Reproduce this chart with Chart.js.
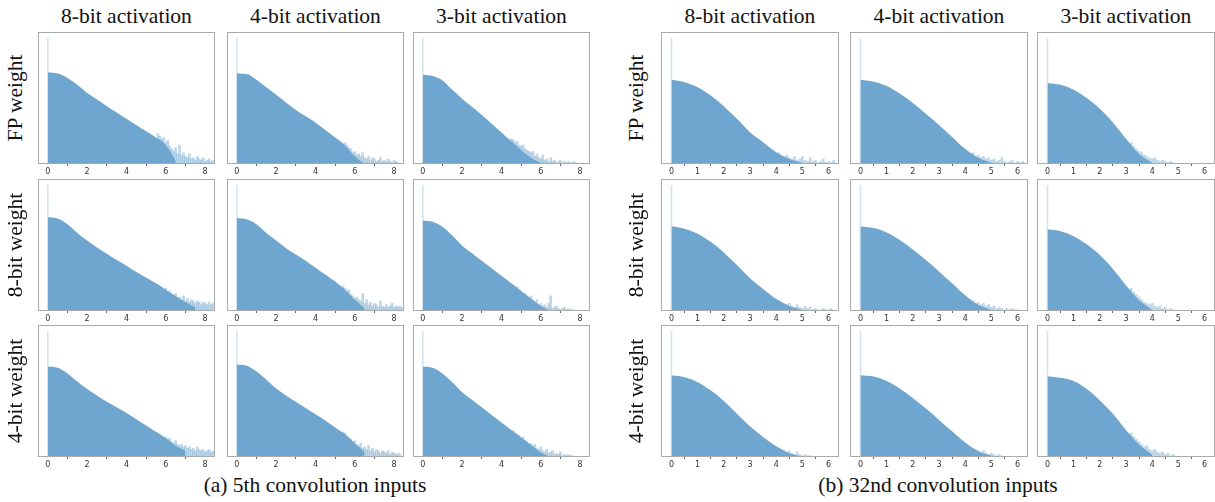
<!DOCTYPE html>
<html>
<head>
<meta charset="utf-8">
<script src="https://cdn.jsdelivr.net/npm/chart.js@4.4.0/dist/chart.umd.min.js"></script>
<style>
body{margin:0;background:#fff;width:1215px;height:502px;position:relative;overflow:hidden;font-family:"Liberation Serif","Times New Roman",serif;color:#111;}
.panel{position:absolute;}
.txt{position:absolute;font-size:21.5px;line-height:24px;height:24px;text-align:center;white-space:nowrap;}
.rot{transform:rotate(-90deg);}
</style>
</head>
<body>
<script>
// labels
const activations = ['8-bit activation', '4-bit activation', '3-bit activation'];
const weights = ['FP weight', '8-bit weight', '4-bit weight'];
const captions = ['(a) 5th convolution inputs', '(b) 32nd convolution inputs'];

// tick labels
const ticksA = [0, 2, 4, 6, 8];
const ticksB = [0, 1, 2, 3, 4, 5, 6];

// x of the body samples (same for every panel)
const bodyX = [0, 0.5, 1, 1.5, 2, 2.5, 3, 3.5, 4, 4.5, 5, 5.5, 6, 6.5, 7, 7.5, 8];

// (a) 5th conv: body heights, rows = FP / 8-bit / 4-bit weight, cols = 8 / 4 / 3-bit act
const bodyA_fp = [
  [0.73, 0.72, 0.685, 0.63, 0.565, 0.513, 0.46, 0.41, 0.36, 0.31, 0.26, 0.21, 0.15, 0.03],
  [0.72, 0.715, 0.67, 0.61, 0.55, 0.49, 0.43, 0.38, 0.33, 0.27, 0.21, 0.15, 0.06, 0.0],
  [0.71, 0.70, 0.665, 0.59, 0.52, 0.455, 0.39, 0.32, 0.25, 0.18, 0.11, 0.05, 0.01, 0.0]
];
const bodyA_w8 = [
  [0.745, 0.735, 0.69, 0.62, 0.56, 0.505, 0.455, 0.405, 0.36, 0.31, 0.265, 0.22, 0.17, 0.12, 0.07, 0.03],
  [0.74, 0.73, 0.69, 0.62, 0.56, 0.5, 0.45, 0.4, 0.345, 0.29, 0.235, 0.17, 0.09, 0.02],
  [0.72, 0.71, 0.67, 0.6, 0.52, 0.46, 0.4, 0.34, 0.28, 0.22, 0.16, 0.1, 0.04, 0.0]
];
const bodyA_w4 = [
  [0.72, 0.71, 0.665, 0.6, 0.54, 0.49, 0.44, 0.395, 0.35, 0.3, 0.25, 0.2, 0.15, 0.09, 0.05],
  [0.735, 0.725, 0.68, 0.615, 0.545, 0.49, 0.44, 0.39, 0.34, 0.29, 0.235, 0.18, 0.11, 0.04],
  [0.72, 0.71, 0.665, 0.595, 0.515, 0.455, 0.395, 0.335, 0.275, 0.215, 0.155, 0.095, 0.035, 0.0]
];
// (a) tail bins (width 0.1) and where they start
const tailStartA = [[5.6, 5.5, 4.5], [6.0, 5.4, 4.6], [6.0, 5.4, 4.6]];
const tailA_fp = [
  [0.24,0.22,0.2,0.21,0.17,0.19,0.14,0.12,0.1,0.13,0.08,0.15,0.07,0.09,0.06,0.05,0.08,0.04,0.05,0.03,0.06,0.04,0.03,0.05,0.02,0.03,0.04,0.02,0.03],
  [0.17,0.15,0.13,0.12,0.09,0.1,0.07,0.08,0.06,0.09,0.05,0.04,0.06,0.03,0.05,0.04,0.02,0.03,0.05,0.02,0.03,0.02,0.04,0.02,0.01,0.03,0.02,0.01],
  [0.2,0.19,0.17,0.18,0.15,0.14,0.15,0.12,0.11,0.1,0.09,0.1,0.06,0.08,0.05,0.04,0.07,0.03,0.04,0.02,0.05,0.02,0.03,0.01,0.02,0.03,0.01,0.02,0.01,0.02,0.01,0.01,0.02,0.01]
];
const tailA_w8 = [
  [0.18,0.15,0.16,0.13,0.12,0.14,0.1,0.11,0.09,0.12,0.08,0.1,0.07,0.09,0.08,0.06,0.08,0.07,0.05,0.07,0.06,0.05,0.07,0.05,0.06],
  [0.2,0.18,0.16,0.17,0.13,0.12,0.1,0.11,0.09,0.08,0.14,0.06,0.09,0.05,0.07,0.04,0.06,0.05,0.03,0.08,0.04,0.03,0.05,0.03,0.04,0.06,0.03,0.04,0.03,0.04,0.03],
  [0.2,0.18,0.19,0.16,0.15,0.13,0.14,0.11,0.1,0.12,0.08,0.07,0.09,0.05,0.06,0.04,0.05,0.03,0.06,0.12,0.02,0.03,0.04,0.02,0.01,0.02,0.03,0.01,0.02,0.01,0.01]
];
const tailA_w4 = [
  [0.16,0.14,0.15,0.12,0.11,0.13,0.1,0.09,0.1,0.08,0.09,0.07,0.08,0.06,0.07,0.05,0.08,0.06,0.05,0.06,0.04,0.05,0.06,0.04,0.05],
  [0.2,0.19,0.16,0.15,0.14,0.12,0.13,0.1,0.09,0.11,0.07,0.08,0.06,0.09,0.05,0.07,0.04,0.06,0.05,0.03,0.05,0.04,0.03,0.05,0.02,0.04,0.03,0.02,0.03,0.02],
  [0.21,0.19,0.18,0.17,0.15,0.16,0.13,0.12,0.1,0.11,0.09,0.1,0.07,0.06,0.08,0.05,0.04,0.06,0.03,0.04,0.05,0.02,0.03,0.02,0.04,0.01,0.02,0.01,0.02,0.01,0.01]
];

// (b) 32nd conv
const bodyB_fp = [
  [0.67, 0.651, 0.611, 0.545, 0.46, 0.359, 0.253, 0.173, 0.093, 0.04, 0.01],
  [0.67, 0.655, 0.62, 0.56, 0.485, 0.4, 0.31, 0.215, 0.12, 0.05, 0.01],
  [0.645, 0.63, 0.59, 0.525, 0.44, 0.33, 0.2, 0.08, 0.01]
];
const bodyB_w8 = [
  [0.675, 0.655, 0.615, 0.55, 0.465, 0.365, 0.26, 0.175, 0.095, 0.04, 0.01],
  [0.675, 0.66, 0.625, 0.565, 0.49, 0.405, 0.315, 0.22, 0.125, 0.05, 0.01],
  [0.65, 0.635, 0.595, 0.53, 0.445, 0.335, 0.205, 0.085, 0.01]
];
const bodyB_w4 = [
  [0.65, 0.635, 0.595, 0.53, 0.445, 0.345, 0.245, 0.16, 0.085, 0.03, 0.005],
  [0.65, 0.64, 0.605, 0.545, 0.47, 0.385, 0.295, 0.205, 0.115, 0.045, 0.01],
  [0.642, 0.63, 0.605, 0.54, 0.45, 0.345, 0.215, 0.1, 0.02]
];
const tailStartB = [[3.6, 3.7, 3.2], [3.6, 3.7, 3.2], [3.6, 3.7, 3.2]];
const tailB_fp = [
  [0.15,0.13,0.12,0.11,0.08,0.09,0.07,0.06,0.07,0.05,0.04,0.06,0.03,0.04,0.06,0.03,0.02,0.05,0.02,0.03,0.01,0.02,0.04,0.01,0.02,0.01,0.03],
  [0.16,0.14,0.13,0.12,0.1,0.08,0.09,0.06,0.07,0.05,0.06,0.04,0.05,0.03,0.04,0.02,0.03,0.05,0.02,0.01,0.02,0.03,0.01,0.02,0.01,0.02],
  [0.17,0.14,0.12,0.1,0.09,0.07,0.06,0.05,0.04,0.05,0.03,0.02,0.03,0.02,0.01,0.02,0.01]
];
const tailB_w8 = [
  [0.15,0.14,0.12,0.1,0.09,0.08,0.07,0.06,0.05,0.06,0.04,0.03,0.05,0.03,0.02,0.04,0.02,0.03,0.01,0.02,0.01,0.01,0.02,0.01,0.01,0.02],
  [0.17,0.15,0.13,0.12,0.1,0.09,0.08,0.06,0.07,0.05,0.06,0.04,0.05,0.03,0.04,0.02,0.03,0.02,0.01,0.02,0.01,0.02,0.01,0.01],
  [0.18,0.15,0.13,0.11,0.09,0.07,0.06,0.05,0.06,0.04,0.03,0.04,0.02,0.03,0.01,0.02,0.01]
];
const tailB_w4 = [
  [0.14,0.12,0.11,0.09,0.08,0.07,0.06,0.05,0.04,0.05,0.03,0.02,0.04,0.02,0.01,0.02,0.01,0.01],
  [0.16,0.14,0.12,0.11,0.09,0.08,0.07,0.06,0.05,0.04,0.05,0.03,0.02,0.03,0.02,0.01,0.02,0.01],
  [0.19,0.16,0.14,0.12,0.1,0.08,0.09,0.06,0.05,0.06,0.04,0.03,0.04,0.02,0.03,0.01,0.02,0.01]
];

// the thin spike at zero
const spikeA = [[1.0, 1.0, 1.0], [1.0, 1.0, 1.0], [1.0, 1.0, 1.0]];
const spikeB = [[1.0, 1.0, 1.0], [1.0, 1.0, 1.0], [1.0, 1.0, 1.0]];

const BLUE = 'rgb(111,166,207)';
const rowTop = [32, 179, 325];
const panelH = 132;

const boxPlugin = {
  id: 'box',
  afterDraw(chart) {
    const a = chart.chartArea, c = chart.ctx;
    c.save();
    c.strokeStyle = '#aaa';
    c.lineWidth = 1;
    c.strokeRect(a.left + 0.5, a.top + 0.5, a.right - a.left - 1, a.bottom - a.top - 1);
    c.restore();
  }
};

function addText(txt, cx, cy, w, rotated) {
  var d = document.createElement('div');
  d.className = 'txt' + (rotated ? ' rot' : '');
  d.textContent = txt;
  d.style.width = w + 'px';
  d.style.left = (cx - w / 2) + 'px';
  d.style.top = (cy - 12) + 'px';
  document.body.appendChild(d);
}

function panel(left, top, w, xmin, xmax, ticks, body, tStart, tail, spike) {
  var div = document.createElement('div');
  div.className = 'panel';
  div.style.left = left + 'px';
  div.style.top = top + 'px';
  var cv = document.createElement('canvas');
  cv.width = w;
  cv.height = panelH + 16;
  div.appendChild(cv);
  document.body.appendChild(div);

  new Chart(cv, {
    type: 'bar',
    data: {
      datasets: [{
        type: 'line',
        data: body.map((v, i) => ({x: bodyX[i], y: v})),
        fill: 'origin',
        backgroundColor: BLUE,
        borderWidth: 0,
        pointRadius: 0,
        cubicInterpolationMode: 'monotone',
        order: 3
      }, {
        data: tail.map((v, i) => ({x: +(tStart + i * 0.1).toFixed(2), y: v})),
        backgroundColor: 'rgba(111,166,207,0.45)',
        barThickness: 2,
        grouped: false,
        order: 2
      }, {
        data: [{x: 0, y: spike}],
        backgroundColor: 'rgba(111,166,207,0.3)',
        barThickness: 1,
        grouped: false,
        order: 1
      }]
    },
    options: {
      responsive: false,
      animation: false,
      events: [],
      layout: {padding: 0},
      plugins: {legend: {display: false}, tooltip: {enabled: false}},
      scales: {
        x: {
          type: 'linear', min: xmin, max: xmax, offset: false,
          afterBuildTicks: s => { s.ticks = ticks.map(v => ({value: v})); },
          afterFit: s => { s.height = 16; },
          grid: {display: true, drawOnChartArea: false, drawTicks: true, tickLength: 2, color: '#666'},
          border: {display: false},
          ticks: {font: {family: 'DejaVu Sans', size: 8}, color: '#333', padding: 1, maxRotation: 0, autoSkip: false}
        },
        y: {display: false, min: 0, max: 1.05}
      }
    },
    plugins: [boxPlugin]
  });
}

const groups = [
  {lefts: [38, 227, 413], w: 177, xmin: -0.5, xmax: 8.5, ticks: ticksA,
   body: [bodyA_fp, bodyA_w8, bodyA_w4], tail: [tailA_fp, tailA_w8, tailA_w4],
   tStart: tailStartA, spike: spikeA, rowLabX: 15, capX: 315},
  {lefts: [661, 850, 1037], w: 178, xmin: -0.4, xmax: 6.4, ticks: ticksB,
   body: [bodyB_fp, bodyB_w8, bodyB_w4], tail: [tailB_fp, tailB_w8, tailB_w4],
   tStart: tailStartB, spike: spikeB, rowLabX: 636, capX: 938}
];

groups.forEach((g, gi) => {
  for (let c = 0; c < 3; c++) {
    addText(activations[c], g.lefts[c] + g.w / 2, 16, 200, false);
    for (let r = 0; r < 3; r++) {
      panel(g.lefts[c], rowTop[r], g.w, g.xmin, g.xmax, g.ticks,
            g.body[r][c], g.tStart[r][c], g.tail[r][c], g.spike[r][c]);
    }
  }
  for (let r = 0; r < 3; r++) {
    addText(weights[r], g.rowLabX, rowTop[r] + panelH / 2, 140, true);
  }
  addText(captions[gi], g.capX, 485, 300, false);
});
</script>
</body>
</html>
